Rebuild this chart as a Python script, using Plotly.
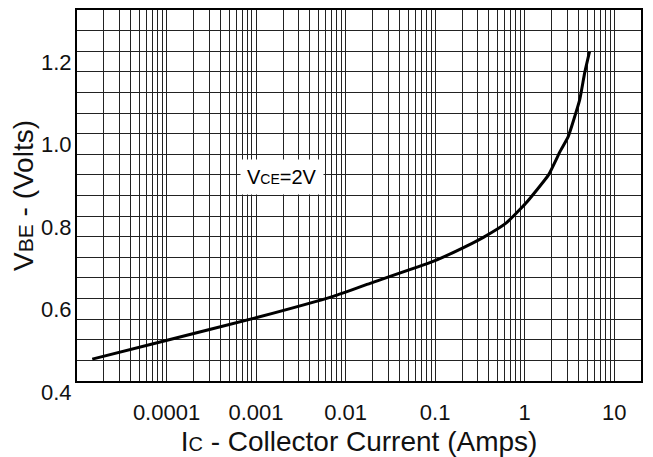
import plotly.graph_objects as go

# Data
ic_amps = [1.48e-5, 9.4e-5, 1.02e-3, 7.4e-3, 0.0188, 0.095, 0.259, 0.35, 0.62,
           1.03, 1.85, 2.49, 3.07, 4.12, 4.68, 5.31]
vbe_volts = [0.453, 0.497, 0.554, 0.606, 0.637, 0.690, 0.734, 0.749, 0.783,
             0.831, 0.900, 0.957, 0.993, 1.082, 1.147, 1.199]

x_tick_vals = [1e-4, 1e-3, 1e-2, 1e-1, 1, 10]
x_tick_text = ["0.0001", "0.001", "0.01", "0.1", "1", "10"]
x_minor_vals = [m * 10.0 ** e for e in range(-5, 1) for m in range(2, 10)]
y_tick_vals = [0.4, 0.6, 0.8, 1.0, 1.2]
y_tick_text = ["0.4", "0.6", "0.8", "1.0", "1.2"]

FONT = "Liberation Sans, Arial, Helvetica, sans-serif"
GRID = "#222222"

fig = go.Figure()
fig.add_trace(go.Scatter(
    x=ic_amps, y=vbe_volts, mode="lines",
    line=dict(color="black", width=3, shape="spline", smoothing=0.4),
    showlegend=False, hoverinfo="skip",
))

fig.add_annotation(
    x=-2.71, y=0.896, xref="x", yref="y",
    text="V<span style='font-size:14px'>CE</span>=2V",
    showarrow=False, font=dict(family=FONT, size=20, color="black"),
    bgcolor="white", borderpad=6,
)

# The page body adds an 8px offset; the figure is sized to fill the window exactly.
fig.update_layout(
    width=645, height=449,
    margin=dict(l=69, r=12, t=2, b=76, autoexpand=False),
    paper_bgcolor="white", plot_bgcolor="white",
    font=dict(family=FONT, color="#111111"),
    xaxis=dict(
        type="log", range=[-5, 1.3], automargin=False,
        tickmode="array", tickvals=x_tick_vals, ticktext=x_tick_text,
        tickfont=dict(size=22, family=FONT, color="#111111"),
        ticks="", ticklabelstandoff=11,
        showgrid=True, gridcolor=GRID, gridwidth=1,
        minor=dict(tickmode="array", tickvals=x_minor_vals, showgrid=True,
                   gridcolor=GRID, gridwidth=1, ticks=""),
        showline=True, linecolor="black", linewidth=2, mirror=True,
        zeroline=False,
        title=dict(text="I<span style='font-size:20px'>C</span> - Collector Current (Amps)",
                   font=dict(size=28, family=FONT, color="#111111"), standoff=12),
    ),
    yaxis=dict(
        range=[0.4, 1.3], automargin=False,
        tickmode="array", tickvals=y_tick_vals, ticktext=y_tick_text,
        tickfont=dict(size=22, family=FONT, color="#111111"),
        ticks="", ticklabelshift=11, ticklabelstandoff=-1,
        showgrid=True, gridcolor=GRID, gridwidth=1,
        minor=dict(dtick=0.05, tick0=0.4, showgrid=True, gridcolor=GRID,
                   gridwidth=1, ticks=""),
        showline=True, linecolor="black", linewidth=2, mirror=True,
        zeroline=False,
        title=dict(text="V<span style='font-size:21px'>BE</span> - (Volts)",
                   font=dict(size=28, family=FONT, color="#111111"), standoff=2),
    ),
)

fig.write_html("out.html")
